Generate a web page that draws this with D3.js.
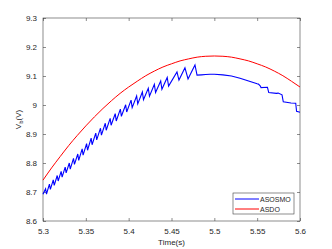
<!DOCTYPE html>
<html>
<head>
<meta charset="utf-8">
<script src="https://cdn.jsdelivr.net/npm/d3@7"></script>
<style>
  body { margin: 0; background: #fff; }
  text { font-family: "Liberation Sans", Arial, sans-serif; fill: #262626; }
</style>
</head>
<body>
<script>
// ASDO (red) samples
var asdoTime = [5.30, 5.31, 5.32, 5.33, 5.34, 5.35, 5.36, 5.37, 5.38, 5.39, 5.40,
  5.41, 5.42, 5.43, 5.44, 5.45, 5.46, 5.47, 5.48, 5.49, 5.50,
  5.51, 5.52, 5.53, 5.54, 5.55, 5.56, 5.57, 5.58, 5.59, 5.60];
var asdoVolt = [8.741, 8.783, 8.822, 8.860, 8.895, 8.928, 8.959, 8.988, 9.015, 9.040, 9.062,
  9.082, 9.101, 9.117, 9.131, 9.142, 9.152, 9.159, 9.165, 9.168, 9.169,
  9.168, 9.165, 9.159, 9.152, 9.142, 9.131, 9.117, 9.101, 9.082, 9.062];

// ASOSMO (blue) samples: peaks and troughs of the chattering part, then the tail
var asosmoTime = [5.3000,
  5.3030, 5.3041, 5.3075, 5.3086, 5.3120, 5.3131, 5.3166, 5.3177, 5.3212, 5.3223,
  5.3259, 5.3270, 5.3307, 5.3318, 5.3356, 5.3367, 5.3406, 5.3417, 5.3457, 5.3468,
  5.3509, 5.3520, 5.3562, 5.3573, 5.3616, 5.3627, 5.3671, 5.3682, 5.3727, 5.3738,
  5.3784, 5.3795, 5.3843, 5.3855, 5.3903, 5.3915, 5.3965, 5.3977, 5.4028, 5.4041,
  5.4093, 5.4106, 5.4160, 5.4173, 5.4229, 5.4243, 5.4300, 5.4314, 5.4374, 5.4388,
  5.4450, 5.4466, 5.4564, 5.4587, 5.4657, 5.4693, 5.4774, 5.4798,
  5.485, 5.490, 5.495, 5.500, 5.510, 5.520, 5.530, 5.540, 5.550,
  5.5515, 5.5535, 5.5545, 5.5620, 5.5635, 5.5725, 5.5745, 5.5790, 5.5805,
  5.5895, 5.5950, 5.5960, 5.6000];
var asosmoVolt = [8.692,
  8.711, 8.693, 8.727, 8.709, 8.742, 8.723, 8.757, 8.738, 8.771, 8.751,
  8.786, 8.766, 8.800, 8.779, 8.816, 8.795, 8.831, 8.809, 8.849, 8.827,
  8.867, 8.844, 8.886, 8.863, 8.903, 8.880, 8.920, 8.896, 8.937, 8.913,
  8.954, 8.930, 8.970, 8.945, 8.986, 8.961, 9.001, 8.976, 9.017, 8.991,
  9.031, 9.004, 9.045, 9.018, 9.058, 9.030, 9.071, 9.043, 9.083, 9.054,
  9.095, 9.065, 9.114, 9.086, 9.128, 9.090, 9.138, 9.103,
  9.104, 9.105, 9.106, 9.106, 9.104, 9.100, 9.092, 9.083, 9.073,
  9.072, 9.066, 9.060, 9.061, 9.043, 9.040, 9.041, 9.035, 9.011,
  9.007, 9.006, 8.978, 8.975];

var xTicks = [5.3, 5.35, 5.4, 5.45, 5.5, 5.55, 5.6];
var yTicks = [8.6, 8.7, 8.8, 8.9, 9, 9.1, 9.2, 9.3];
var seriesNames = ["ASOSMO", "ASDO"];
var seriesColors = ["#0000ff", "#ff0000"];

var margin = {top: 18, right: 32, bottom: 28, left: 43};
var width = 332 - margin.left - margin.right;
var height = 249 - margin.top - margin.bottom;

var x = d3.scaleLinear().domain([5.3, 5.6]).range([0, width]);
var y = d3.scaleLinear().domain([8.6, 9.3]).range([height, 0]);

var svg = d3.select("body").append("svg")
    .attr("width", 332)
    .attr("height", 249)
  .append("g")
    .attr("transform", "translate(" + margin.left + "," + margin.top + ")");

var fmt = function(d) { return String(d); };

function styleAxis(g) {
  g.select(".domain").remove();
  g.selectAll("line").attr("stroke", "#404040").attr("stroke-width", 0.6);
  g.selectAll("text").style("font-size", "8px").attr("fill", "#262626");
}

svg.append("g")
    .attr("transform", "translate(0," + height + ")")
    .call(d3.axisBottom(x).tickValues(xTicks).tickFormat(fmt).tickSizeInner(-3).tickSizeOuter(0).tickPadding(7))
    .call(styleAxis);
svg.append("g")
    .call(d3.axisTop(x).tickValues(xTicks).tickFormat("").tickSizeInner(-3).tickSizeOuter(0))
    .call(styleAxis);
svg.append("g")
    .call(d3.axisLeft(y).tickValues(yTicks).tickFormat(fmt).tickSizeInner(-3).tickSizeOuter(0).tickPadding(6))
    .call(styleAxis);
svg.append("g")
    .attr("transform", "translate(" + width + ",0)")
    .call(d3.axisRight(y).tickValues(yTicks).tickFormat("").tickSizeInner(-3).tickSizeOuter(0))
    .call(styleAxis);

svg.append("rect")
    .attr("width", width)
    .attr("height", height)
    .attr("fill", "none")
    .attr("stroke", "#404040")
    .attr("stroke-width", 0.6);

var line = d3.line()
    .x(function(d) { return x(d[0]); })
    .y(function(d) { return y(d[1]); });

svg.append("path")
    .datum(d3.zip(asdoTime, asdoVolt))
    .attr("fill", "none")
    .attr("stroke", seriesColors[1])
    .attr("stroke-width", 1)
    .attr("d", line.curve(d3.curveMonotoneX));

svg.append("path")
    .datum(d3.zip(asosmoTime, asosmoVolt))
    .attr("fill", "none")
    .attr("stroke", seriesColors[0])
    .attr("stroke-width", 1.1)
    .attr("d", line.curve(d3.curveLinear));

// axis labels
svg.append("text")
    .attr("x", width / 2)
    .attr("y", height + 24)
    .style("text-anchor", "middle")
    .style("font-size", "8px")
    .text("Time(s)");

var yl = svg.append("text")
    .attr("transform", "translate(-22," + (height / 2) + ") rotate(-90)")
    .style("text-anchor", "middle")
    .style("font-size", "8px");
yl.append("tspan").text("V");
yl.append("tspan").attr("dy", 2).style("font-size", "6px").text("b");
yl.append("tspan").attr("dy", -2).text("(V)");

// legend
var lg = svg.append("g").attr("transform", "translate(190,175)");
lg.append("rect")
    .attr("width", 61)
    .attr("height", 21)
    .attr("fill", "#fff")
    .attr("stroke", "#404040")
    .attr("stroke-width", 0.6);
seriesNames.forEach(function(name, i) {
  lg.append("line")
      .attr("x1", 2).attr("x2", 26)
      .attr("y1", 6 + i * 10).attr("y2", 6 + i * 10)
      .attr("stroke", seriesColors[i])
      .attr("stroke-width", 1);
  lg.append("text")
      .attr("x", 27)
      .attr("y", 8.5 + i * 10)
      .style("font-size", "7px")
      .text(name);
});
</script>
</body>
</html>
